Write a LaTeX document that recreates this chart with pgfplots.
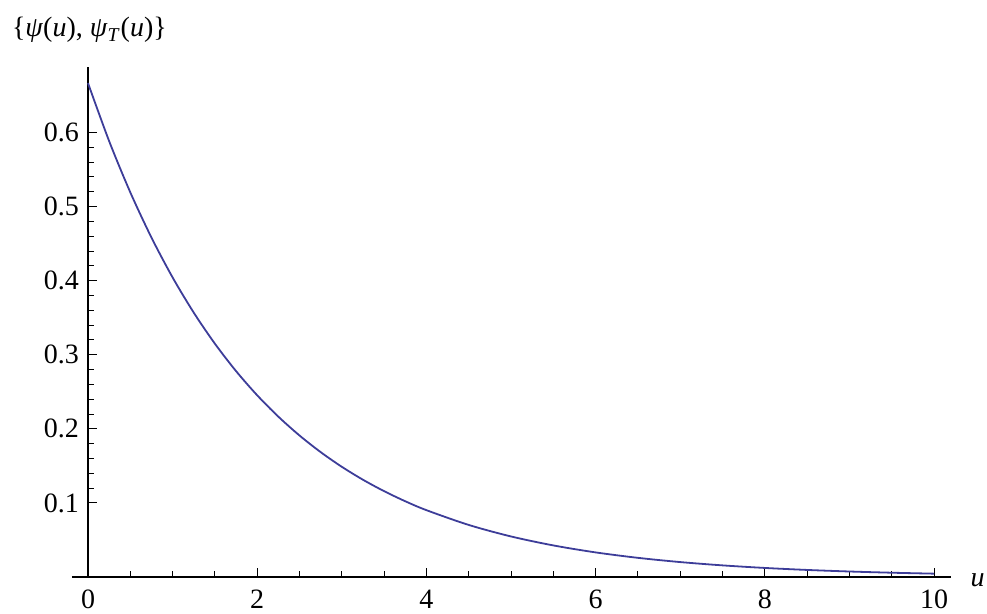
\documentclass[border=0pt]{standalone}
\usepackage{fontspec}
\setmainfont{Liberation Serif}
\usepackage{pgfplots}
\pgfplotsset{compat=1.18}

\definecolor{curveblue}{RGB}{61,61,153}

\begin{document}
\begin{tikzpicture}[x=1pt,y=1pt]
\useasboundingbox (0,0) rectangle (493.5,307);
\begin{axis}[
  at={(44pt,18.5pt)}, anchor=origin,
  scale only axis,
  width=439.5pt, height=254.85pt,
  xmin=-0.19, xmax=10.2,
  ymin=0, ymax=0.688,
  axis lines=middle,
  axis line style={-, black, line width=0.6pt},
  tick align=inside,
  hide obscured x ticks=false,
  xtick={0,2,4,6,8,10},
  ytick={0.1,0.2,0.3,0.4,0.5,0.6},
  minor x tick num=3,
  minor y tick num=4,
  major tick length=4.5pt,
  minor tick length=3pt,
  tick style={black, line width=0.5pt},
  /pgf/number format/assume math mode=true,
  /pgf/number format/fixed,
  /pgf/number format/precision=1,
  tick label style={font=\fontsize{14}{16}\selectfont},
  xticklabel style={anchor=north, yshift=-3pt},
  yticklabel style={anchor=east, xshift=-1pt},
  clip=false,
]
\addplot[curveblue, line width=0.9pt, smooth] coordinates {
  (0,0.66667) (0.25,0.58833) (0.5,0.51920) (0.75,0.45819) (1,0.40435)
  (1.25,0.35684) (1.5,0.31491) (1.75,0.27791) (2,0.24525) (2.25,0.21643)
  (2.5,0.19100) (2.75,0.16856) (3,0.14875) (3.25,0.13127) (3.5,0.11585)
  (3.75,0.10224) (4,0.09022) (4.5,0.07027) (5,0.05472) (5.5,0.04262)
  (6,0.03319) (6.5,0.02585) (7,0.02013) (7.5,0.01568) (8,0.01221)
  (8.5,0.00951) (9,0.00741) (9.5,0.00577) (10,0.00449)
};
\end{axis}
\node[anchor=west, inner sep=0pt, font=\fontsize{14}{16}\selectfont] at (5.8,292)
  {\{\textit{ψ}(\textit{u}), \textit{ψ}\textsubscript{\textit{T}}(\textit{u})\}};
\node[anchor=east, inner sep=0pt, font=\fontsize{14}{16}\selectfont] at (492.5,17) {\textit{u}};
\end{tikzpicture}
\end{document}
